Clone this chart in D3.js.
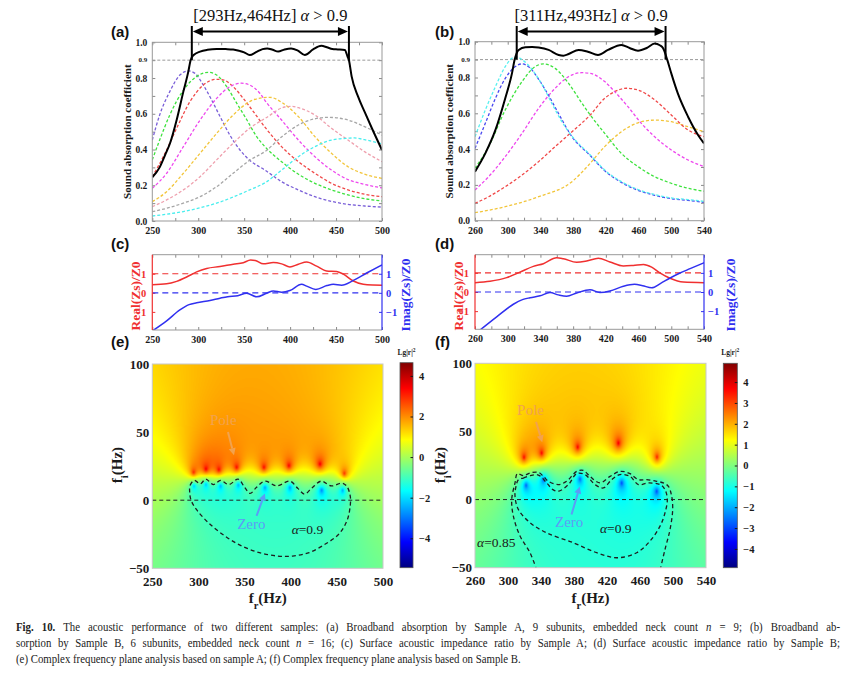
<!DOCTYPE html>
<html><head><meta charset="utf-8">
<script src="https://cdn.jsdelivr.net/npm/d3@7/dist/d3.min.js"></script>
<style>
html,body{margin:0;padding:0;background:#fff;}
svg{display:block;}
</style></head>
<body>
<svg id="fig" width="855" height="674" xmlns="http://www.w3.org/2000/svg"></svg>
<script>
// ================= DATA =================
// (a) Sample A sound absorption, [frequency Hz, alpha]
const absA_total = [[250,0.245],[258,0.30],[264,0.37],[269.3,0.435],[276.5,0.565],[283.8,0.724],[289.2,0.836],[291.7,0.90],[295,0.929],[302,0.948],[310,0.958],[320,0.963],[330,0.962],[338,0.96],[345,0.952],[350,0.944],[356,0.929],[363,0.945],[370,0.962],[375,0.966],[381,0.958],[387,0.948],[394,0.96],[401,0.966],[408,0.955],[416,0.929],[425,0.96],[434,0.98],[440,0.972],[446,0.962],[452,0.96],[459.5,0.957],[462.5,0.92],[464,0.90],[467,0.808],[474,0.696],[481,0.612],[489,0.519],[500,0.397]];
const absA_purple  = [[250,0.453],[258,0.593],[269,0.724],[280,0.817],[289,0.84],[296.5,0.826],[305.5,0.761],[314.6,0.677],[323.7,0.585],[334.5,0.48],[345,0.40],[356,0.34],[372.6,0.285],[390.7,0.22],[409,0.174],[427,0.136],[445,0.11],[463,0.093],[481,0.084],[500,0.078]];
const absA_green   = [[250,0.342],[258,0.453],[269,0.593],[284,0.733],[298,0.808],[311,0.832],[320,0.817],[331,0.752],[342,0.658],[353,0.565],[363.6,0.472],[372.6,0.416],[390.7,0.332],[409,0.262],[427,0.211],[445,0.174],[463,0.146],[481,0.125],[500,0.112]];
const absA_red     = [[250,0.248],[262,0.36],[276.5,0.519],[291,0.668],[305.5,0.761],[320,0.793],[327,0.79],[338,0.752],[349,0.686],[360,0.612],[372.6,0.525],[390.7,0.416],[409,0.332],[427,0.267],[445,0.211],[463,0.174],[481,0.15],[500,0.136]];
const absA_magenta = [[250,0.183],[265.6,0.267],[283.8,0.416],[302,0.565],[320,0.686],[334.5,0.752],[347,0.771],[356,0.761],[367,0.715],[374,0.665],[390.7,0.565],[409,0.453],[427,0.36],[445,0.285],[463,0.232],[481,0.205],[500,0.185]];
const absA_yellow  = [[250,0.108],[265.6,0.164],[283.8,0.267],[302,0.379],[320,0.49],[338,0.593],[356,0.668],[370,0.69],[378,0.692],[392,0.66],[409,0.584],[427,0.472],[445,0.379],[463,0.304],[481,0.262],[500,0.239]];
const absA_pink    = [[250,0.08],[265.6,0.118],[283.8,0.174],[302,0.248],[320,0.342],[338,0.435],[356,0.519],[374,0.578],[394,0.638],[402,0.642],[409,0.634],[427,0.593],[445,0.519],[463,0.453],[481,0.388],[500,0.332]];
const absA_gray    = [[250,0.052],[265.6,0.071],[283.8,0.1],[302,0.136],[320,0.192],[338,0.267],[356,0.34],[373,0.39],[391,0.472],[409,0.537],[427,0.572],[442,0.58],[463,0.565],[481,0.528],[500,0.48]];
const absA_cyan    = [[250,0.028],[283.8,0.053],[320,0.1],[356,0.174],[373,0.215],[391,0.286],[409,0.36],[427,0.416],[445,0.453],[463,0.463],[470,0.465],[481,0.455],[500,0.432]];

// (b) Sample B sound absorption
const absB_total = [[260,0.274],[272.6,0.376],[285,0.507],[297,0.684],[305.2,0.823],[308.5,0.90],[313.4,0.954],[321.5,0.969],[330,0.970],[337.8,0.967],[350,0.954],[362.3,0.926],[368,0.922],[374.5,0.931],[386.7,0.954],[398,0.944],[410.4,0.926],[422.7,0.954],[439,0.982],[449,0.965],[459.3,0.95],[470,0.965],[479.7,0.99],[486,0.98],[490,0.963],[495,0.90],[500,0.823],[508,0.711],[520.5,0.581],[532.7,0.479],[540,0.432]];
const absB_cyan    = [[260,0.469],[272.6,0.618],[285,0.749],[297,0.861],[305,0.907],[311,0.915],[317.5,0.90],[329.7,0.845],[342,0.76],[354,0.655],[366,0.555],[378.6,0.472],[401,0.367],[418.6,0.283],[439,0.218],[459.3,0.174],[479.7,0.146],[500,0.127],[520.5,0.118],[540,0.108]];
const absB_blue    = [[260,0.404],[272.6,0.544],[285,0.684],[297,0.795],[309.3,0.861],[317.5,0.876],[325.6,0.86],[337.8,0.79],[350,0.70],[362,0.60],[378.6,0.469],[401,0.363],[418.6,0.279],[439,0.214],[459.3,0.17],[479.7,0.142],[500,0.123],[520.5,0.113],[540,0.103]];
const absB_green   = [[260,0.293],[276.7,0.414],[297,0.619],[317.5,0.777],[333.7,0.861],[344,0.876],[358,0.851],[374.5,0.767],[390.8,0.656],[401,0.59],[418.6,0.488],[439,0.376],[459.3,0.302],[479.7,0.246],[500,0.209],[520.5,0.181],[540,0.165]];
const absB_magenta = [[260,0.172],[276.7,0.246],[297,0.358],[317.5,0.488],[337.8,0.628],[358,0.74],[374.5,0.805],[390.8,0.827],[401,0.823],[418.6,0.777],[430.8,0.721],[447,0.637],[463.4,0.544],[479.7,0.469],[500,0.395],[520.5,0.339],[540,0.302]];
const absB_red     = [[260,0.097],[276.7,0.134],[297,0.19],[317.5,0.255],[337.8,0.33],[358,0.414],[378.6,0.497],[401,0.591],[418.6,0.684],[430.8,0.721],[445,0.74],[459.3,0.73],[479.7,0.675],[500,0.591],[520.5,0.507],[540,0.47]];
const absB_yellow  = [[260,0.045],[297,0.078],[337.8,0.134],[378.6,0.218],[398,0.306],[418.6,0.414],[439,0.497],[459.3,0.547],[479.7,0.562],[500,0.553],[520.5,0.525],[540,0.497]];

// band limits where alpha > 0.9
const bandA = [293, 464];
const bandB = [311, 493];

// (c),(d) surface impedance ratio, [frequency Hz, value]
const zA_real = [[250,0.43],[265.6,0.47],[276.5,0.6],[287.4,0.83],[298.3,1.1],[309.2,1.28],[323.7,1.38],[338.2,1.5],[349,1.58],[357,1.72],[362,1.70],[370.8,1.52],[381.7,1.59],[390.8,1.52],[399.8,1.36],[408.9,1.5],[418,1.62],[428.9,1.4],[439.7,1.15],[450.6,1.12],[457.9,0.98],[468.8,0.62],[479.6,0.45],[490,0.41],[500,0.40]];
const zA_imag = [[250,-2.0],[265.6,-1.47],[280,-0.9],[290,-0.62],[298.3,-0.52],[312.8,-0.4],[323.7,-0.28],[332,-0.2],[343,-0.15],[352.7,-0.02],[363.6,-0.21],[374.5,-0.02],[381.7,0.1],[390.8,0.03],[399.8,0.12],[412.5,0.45],[418,0.35],[428,0.18],[440,0.38],[447,0.45],[456,0.4],[468.8,0.65],[483.3,1.04],[500,1.47]];
const zB_real = [[260,0.49],[278.4,0.56],[298.7,0.75],[315,1.04],[331.3,1.34],[343.6,1.48],[359.9,1.79],[368,1.74],[384.3,1.55],[396.5,1.62],[410.8,1.77],[425,1.57],[441.4,1.36],[453.6,1.39],[466,1.44],[476,1.3],[486,1.0],[498.4,0.72],[514.7,0.52],[540,0.49]];
const zB_imag = [[260,-2.2],[286.5,-1.3],[306.9,-0.64],[318,-0.4],[327.3,-0.30],[339.5,-0.2],[351.7,-0.03],[361.9,-0.15],[372,-0.22],[384.3,-0.05],[400.6,0.12],[412.8,-0.03],[425,0.05],[441.4,0.3],[455,0.4],[465,0.33],[476,0.22],[487,0.45],[498,0.72],[510,0.98],[523,1.22],[540,1.53]];

// (e),(f) complex frequency plane: poles and zeros [fr, fi] in Hz
const polesA = [[294.8,20.4],[308.2,22.8],[322.2,22.3],[341.4,24.1],[371,24.1],[398.1,25.3],[431.7,26.5],[458.1,19.6]];
const zerosA = [[295.2,10.5],[308.2,11.7],[324,10.5],[343.2,11.2],[372.1,9.3],[399.2,9.3],[433.5,7.3],[456.3,7.3]];
const polesB = [[319.4,31],[340.8,34.1],[384.5,38.5],[433.8,41.4],[480.6,31.2]];
const zerosB = [[321.9,10.5],[342.9,14.6],[387.3,15.1],[437.8,12.2],[480.2,6.1]];

// iso-absorption contours [fr, fi]
const contA_090 = [[290.5,6],[291,11],[295.5,14.5],[302,12],[308,15.5],[316,11.5],[324,14.5],[333,11.5],[343,15.5],[350,9.5],[356,5],[363,9.5],[372,14],[385,10.5],[399,14],[408,8.5],[415,4.5],[423,9],[433,14],[444,10.5],[456,12.5],[461,10],[464.5,3],[464.5,-4],[461,-15],[452,-25],[438,-32],[420,-38.5],[402,-41],[386,-41],[366,-38.5],[345,-33],[326,-25],[310,-16],[298,-7],[292,0]];
const contB_090 = [[312.6,14.6],[318.6,15.8],[326.7,17.5],[336.8,18],[346.9,12.2],[354,7.5],[361,6.1],[373.2,11],[383.3,19],[393.4,18.3],[405.5,11],[415.6,8.5],[425.7,14.6],[435.8,18.3],[447.9,17],[458,11],[470.1,12.2],[484.3,11],[490.3,7.3],[493.1,0],[490.3,-9.8],[484.3,-19.5],[472.1,-30.5],[456,-39],[431.7,-42.7],[407.5,-39],[379.2,-31.7],[346.9,-24.4],[326.7,-17],[312.6,-7.3],[308.5,2.4],[309.7,9.7]];
const contB_085 = [[335,-52],[326.7,-39],[314.6,-26.8],[306.5,-12.2],[304.5,0],[308.5,12.2],[311.4,19],[318.6,17.5],[326.7,19.5],[336.8,20],[343,17],[349,13.4],[361,11],[371,13.4],[383.3,20.7],[391.3,21.4],[399.4,17],[411.5,12.2],[423.7,17],[435.8,20.7],[447.9,19],[458,14.6],[468,14.6],[480.2,13.4],[488.3,12.2],[494.4,9.7],[498.4,2.4],[499.6,-7.3],[496.4,-22],[490.3,-36.6],[484.3,-52]];

// tick values
const ticksA = [250,300,350,400,450,500];
const ticksB = [260,300,340,380,420,460,500,540];
const ticksAbsY = [0,0.2,0.4,0.6,0.8,1.0];
const ticksZ = [-1,0,1];
const ticksFi = [-50,0,50,100];
const ticksCbA = [-4,-2,0,2,4];
const ticksCbB = [-4,-3,-2,-1,0,1,2,3,4];

// ================= DRAWING =================
const svg = d3.select('#fig');
const SERIF = "'Liberation Serif','Times New Roman',serif";
const SANS = "'Liberation Sans',Arial,sans-serif";
const defs = svg.append('defs');
let nClip = 0;
function clipRect(x0, y0, w, h) {
  const id = 'clip' + (nClip++);
  defs.append('clipPath').attr('id', id).append('rect').attr('x', x0).attr('y', y0).attr('width', w).attr('height', h);
  return 'url(#' + id + ')';
}
function styleAxis(sel, size, color) {
  sel.select('.domain').remove();
  sel.selectAll('.tick line').attr('stroke', color);
  sel.selectAll('.tick text').attr('font-family', SERIF).attr('font-weight', 'bold')
     .attr('font-size', size).attr('fill', color);
}
function panelLabel(txt, x, y) {
  svg.append('text').attr('x', x).attr('y', y).attr('font-family', SANS).attr('font-weight', 'bold')
     .attr('font-size', 15).attr('fill', '#111').text(txt);
}
function rotLabel(x, y, parts, size, color) {
  const t = svg.append('text').attr('transform', `translate(${x},${y}) rotate(-90)`)
    .attr('text-anchor', 'middle').attr('font-family', SERIF).attr('font-weight', 'bold')
    .attr('font-size', size).attr('fill', color).attr('dy', '0.35em');
  parts.forEach(p => {
    const s = t.append('tspan').text(p.t);
    if (p.sub) s.attr('font-size', size * 0.7).attr('baseline-shift', 'sub');
  });
}

// ---------- absorption panels ----------
function absPanel(p) {
  const x = d3.scaleLinear().domain(p.xdom).range(p.xr);
  const y = d3.scaleLinear().domain([0, 1]).range(p.yr);
  const [x0, x1] = p.xr, [yb, yt] = p.yr;
  const g = svg.append('g');
  const gray = '#8a8a8a';
  const minor = (axis, tr, vals) => g.append('g').attr('transform', tr)
      .call(axis.tickValues(vals).tickSize(-3).tickFormat(''))
      .call(s => styleAxis(s, 9, gray));
  const yMinor = d3.range(0, 11).map(i => i / 10);
  minor(d3.axisBottom(x), `translate(0,${yb})`, p.xminor);
  minor(d3.axisTop(x), `translate(0,${yt})`, p.xminor);
  minor(d3.axisLeft(y), `translate(${x0},0)`, yMinor);
  minor(d3.axisRight(y), `translate(${x1},0)`, yMinor);
  g.append('g').attr('transform', `translate(0,${yb})`)
    .call(d3.axisBottom(x).tickValues(p.xticks).tickSize(0).tickPadding(6).tickFormat(d3.format('d')))
    .call(s => styleAxis(s, 10, '#1a1a1a'));
  g.append('g').attr('transform', `translate(${x0},0)`)
    .call(d3.axisLeft(y).tickValues(ticksAbsY).tickSize(0).tickPadding(5).tickFormat(d3.format('.1f')))
    .call(s => styleAxis(s, 9.5, '#1a1a1a'));
  g.append('text').attr('x', x0 - 5).attr('y', y(0.9)).attr('dy', '0.32em').attr('text-anchor', 'end')
    .attr('font-family', SERIF).attr('font-weight', 'bold').attr('font-size', 7).attr('fill', '#1a1a1a').text('0.9');

  const gc = g.append('g').attr('clip-path', clipRect(x0, yt, x1 - x0, yb - yt));
  gc.append('line').attr('x1', x0).attr('x2', x1).attr('y1', y(0.9)).attr('y2', y(0.9))
    .attr('stroke', '#999').attr('stroke-width', 1).attr('stroke-dasharray', '3,2');
  const line = d3.line().x(d => x(d[0])).y(d => y(d[1])).curve(d3.curveMonotoneX);
  p.series.forEach(s => gc.append('path').attr('d', line(s.data)).attr('fill', 'none')
    .attr('stroke', s.color).attr('stroke-width', 1.3).attr('stroke-dasharray', '3,2'));
  gc.append('path').attr('d', line(p.total)).attr('fill', 'none').attr('stroke', '#000').attr('stroke-width', 2);
  g.append('rect').attr('x', x0).attr('y', yt).attr('width', x1 - x0).attr('height', yb - yt)
    .attr('fill', 'none').attr('stroke', '#999').attr('stroke-width', 1);

  // band annotation
  const [fa, fb] = p.band;
  const yTop = 26, yArr = 31.5;
  [fa, fb].forEach(f => g.append('line').attr('x1', x(f)).attr('x2', x(f)).attr('y1', yTop).attr('y2', y(0.9))
    .attr('stroke', '#000').attr('stroke-width', 2));
  g.append('line').attr('x1', x(fa) + 6).attr('x2', x(fb) - 6).attr('y1', yArr).attr('y2', yArr)
    .attr('stroke', '#000').attr('stroke-width', 2.2);
  const xa = x(fa) + 1, xb = x(fb) - 1;
  g.append('path').attr('d', `M${xa},${yArr}L${xa + 10},${yArr - 4.5}L${xa + 10},${yArr + 4.5}Z`).attr('fill', '#000');
  g.append('path').attr('d', `M${xb},${yArr}L${xb - 10},${yArr - 4.5}L${xb - 10},${yArr + 4.5}Z`).attr('fill', '#000');
  const t = g.append('text').attr('x', x((fa + fb) / 2)).attr('y', 21).attr('text-anchor', 'middle')
    .attr('font-family', SERIF).attr('font-size', 16.5).attr('fill', '#111');
  t.append('tspan').text(`[${fa}Hz,${fb}Hz] `);
  t.append('tspan').attr('font-style', 'italic').text('α');
  t.append('tspan').text(' > 0.9');
  panelLabel(p.label, p.labx, 37);
  rotLabel(p.ytx, (yt + yb) / 2, [{t: 'Sound absorption coefficient'}], 11, '#1a1a1a');
  return x;
}

absPanel({
  xdom: [250, 500], xr: [152.3, 382], yr: [221, 42.3], xticks: ticksA, xminor: d3.range(250, 501, 25),
  total: absA_total, band: bandA, label: '(a)', labx: 111, ytx: 127,
  series: [
    {data: absA_purple, color: '#7a5fd8'}, {data: absA_green, color: '#3ee23e'},
    {data: absA_red, color: '#f04848'}, {data: absA_magenta, color: '#ee48ee'},
    {data: absA_yellow, color: '#f2c53a'}, {data: absA_pink, color: '#efa0ae'},
    {data: absA_gray, color: '#a6a6a6'}, {data: absA_cyan, color: '#48eeee'}
  ]
});
absPanel({
  xdom: [260, 540], xr: [475, 704], yr: [220.7, 41.7], xticks: ticksB, xminor: d3.range(260, 541, 20),
  total: absB_total, band: bandB, label: '(b)', labx: 435, ytx: 449,
  series: [
    {data: absB_yellow, color: '#f2c53a'}, {data: absB_red, color: '#f04848'},
    {data: absB_magenta, color: '#ee48ee'}, {data: absB_green, color: '#3ee23e'},
    {data: absB_blue, color: '#4848f0'}, {data: absB_cyan, color: '#58f0f0'}
  ]
});

// ---------- impedance panels ----------
function zPanel(p) {
  const x = d3.scaleLinear().domain(p.xdom).range(p.xr);
  const y = d3.scaleLinear().domain(p.ydom).range(p.yr);
  const [x0, x1] = p.xr, [yb, yt] = p.yr;
  const RED = '#f03030', BLUE = '#3030f0', gray = '#8a8a8a';
  const g = svg.append('g');
  g.append('g').attr('transform', `translate(0,${yb})`)
    .call(d3.axisBottom(x).tickValues(p.xminor).tickSize(-3).tickFormat('')).call(s => styleAxis(s, 9, gray));
  g.append('g').attr('transform', `translate(0,${yt})`)
    .call(d3.axisTop(x).tickValues(p.xminor).tickSize(-3).tickFormat('')).call(s => styleAxis(s, 9, gray));
  g.append('g').attr('transform', `translate(0,${yb})`)
    .call(d3.axisBottom(x).tickValues(p.xticks).tickSize(0).tickPadding(6).tickFormat(d3.format('d')))
    .call(s => styleAxis(s, 10, '#1a1a1a'));
  g.append('g').attr('transform', `translate(${x0},0)`)
    .call(d3.axisLeft(y).tickValues(ticksZ).tickSize(-3).tickPadding(6).tickFormat(d3.format('d')))
    .call(s => styleAxis(s, 10.5, RED));
  g.append('g').attr('transform', `translate(${x1},0)`)
    .call(d3.axisRight(y).tickValues(ticksZ).tickSize(-3).tickPadding(4).tickFormat(d3.format('d')))
    .call(s => styleAxis(s, 10.5, BLUE));
  const gc = g.append('g').attr('clip-path', clipRect(x0, yt, x1 - x0, yb - yt));
  gc.append('line').attr('x1', x0).attr('x2', x1).attr('y1', y(1)).attr('y2', y(1))
    .attr('stroke', RED).attr('stroke-width', 1.2).attr('stroke-dasharray', '6,4');
  gc.append('line').attr('x1', x0).attr('x2', x1).attr('y1', y(0)).attr('y2', y(0))
    .attr('stroke', BLUE).attr('stroke-width', 1.2).attr('stroke-dasharray', '6,4');
  const line = d3.line().x(d => x(d[0])).y(d => y(d[1])).curve(d3.curveMonotoneX);
  gc.append('path').attr('d', line(p.real)).attr('fill', 'none').attr('stroke', RED).attr('stroke-width', 1.5);
  gc.append('path').attr('d', line(p.imag)).attr('fill', 'none').attr('stroke', BLUE).attr('stroke-width', 1.5);
  g.append('line').attr('x1', x0).attr('x2', x1).attr('y1', yt).attr('y2', yt).attr('stroke', '#999');
  g.append('line').attr('x1', x0).attr('x2', x1).attr('y1', yb).attr('y2', yb).attr('stroke', '#999');
  g.append('line').attr('x1', x0).attr('x2', x0).attr('y1', yt).attr('y2', yb).attr('stroke', RED).attr('stroke-width', 1.2);
  g.append('line').attr('x1', x1).attr('x2', x1).attr('y1', yt).attr('y2', yb).attr('stroke', BLUE).attr('stroke-width', 1.2);
  panelLabel(p.label, p.labx, 249);
  rotLabel(p.ltx, 296, [{t: 'Real(Zs)/Z0'}], 13.5, RED);
  rotLabel(p.rtx, 295, [{t: 'Imag(Zs)/Z0'}], 13.5, BLUE);
}
zPanel({xdom: [250, 500], xr: [152.3, 382], ydom: [-1.95, 2], yr: [330, 254.7], xticks: ticksA,
  xminor: d3.range(250, 501, 25), real: zA_real, imag: zA_imag, label: '(c)', labx: 111, ltx: 135, rtx: 405});
zPanel({xdom: [260, 540], xr: [475, 704], ydom: [-1.95, 1.95], yr: [329.3, 254.7], xticks: ticksB,
  xminor: d3.range(260, 541, 20), real: zB_real, imag: zB_imag, label: '(d)', labx: 435, ltx: 458, rtx: 730});

// ---------- complex frequency plane panels ----------
const jetPos = [0, 0.125, 0.375, 0.625, 0.875, 1];
const jetCol = ['#000080', '#0000ff', '#00ffff', '#ffff00', '#ff0000', '#800000'];
function jet(lo, hi) {
  return d3.scaleLinear().domain(jetPos.map(p => lo + p * (hi - lo))).range(jetCol)
    .interpolate(d3.interpolateRgb).clamp(true);
}
// lg|r|^2 from the pole/zero positions, with a gentle background trend
function fieldLg(fr, fi, P, Z, m) {
  let D = 0;
  for (const z of Z) D += Math.log10((fr - z[0]) ** 2 + (fi - z[1]) ** 2 + 1);
  for (const q of P) D -= Math.log10((fr - q[0]) ** 2 + (fi - q[1]) ** 2 + 1);
  const extra = D > 0 ? m.boost * m.sat * Math.tanh(D / m.sat) : 0;
  return m.b0 + m.b1 * fi + D + extra;
}
function heatPanel(p) {
  const x = d3.scaleLinear().domain(p.xdom).range(p.xr);
  const y = d3.scaleLinear().domain([-50, 100]).range(p.yr);
  const [x0, x1] = p.xr, [yb, yt] = p.yr;
  const g = svg.append('g');
  const col = jet(p.cdom[0], p.cdom[1]);
  const N = 512, lut = [];
  for (let i = 0; i < N; i++) lut.push(d3.rgb(col(p.cdom[0] + (p.cdom[1] - p.cdom[0]) * i / (N - 1))));
  const W = Math.round(x1 - x0), H = Math.round(yb - yt);
  const cv = document.createElement('canvas'); cv.width = W; cv.height = H;
  const ctx = cv.getContext('2d'); const im = ctx.createImageData(W, H);
  for (let j = 0; j < H; j++) {
    const fi = y.invert(yt + (j + 0.5) * (yb - yt) / H);
    for (let i = 0; i < W; i++) {
      const fr = x.invert(x0 + (i + 0.5) * (x1 - x0) / W);
      const v = fieldLg(fr, fi, p.poles, p.zeros, p.model);
      let k = Math.round((v - p.cdom[0]) / (p.cdom[1] - p.cdom[0]) * (N - 1));
      k = Math.max(0, Math.min(N - 1, k));
      const c = lut[k], o = (j * W + i) * 4;
      im.data[o] = c.r; im.data[o + 1] = c.g; im.data[o + 2] = c.b; im.data[o + 3] = 255;
    }
  }
  ctx.putImageData(im, 0, 0);
  g.append('image').attr('x', x0).attr('y', yt).attr('width', x1 - x0).attr('height', yb - yt)
    .attr('preserveAspectRatio', 'none').attr('href', cv.toDataURL());
  const gc = g.append('g').attr('clip-path', clipRect(x0, yt, x1 - x0, yb - yt));
  gc.append('line').attr('x1', x0).attr('x2', x1).attr('y1', y(0)).attr('y2', y(0))
    .attr('stroke', '#222').attr('stroke-width', 1).attr('stroke-dasharray', '4,3');
  p.contours.forEach(c => {
    const ln = d3.line().x(d => x(d[0])).y(d => y(d[1]))
      .curve(c.closed ? d3.curveCatmullRomClosed : d3.curveCatmullRom);
    gc.append('path').attr('d', ln(c.data)).attr('fill', 'none').attr('stroke', '#1e1e1e')
      .attr('stroke-width', 1.3).attr('stroke-dasharray', '4,3');
  });
  g.append('rect').attr('x', x0).attr('y', yt).attr('width', x1 - x0).attr('height', yb - yt)
    .attr('fill', 'none').attr('stroke', '#c8c8c8').attr('stroke-width', 1);
  g.append('g').attr('transform', `translate(0,${yb})`)
    .call(d3.axisBottom(x).tickValues(p.xticks).tickSize(0).tickPadding(8).tickFormat(d3.format('d')))
    .call(s => styleAxis(s, 13, '#1a1a1a'));
  g.append('g').attr('transform', `translate(${x0},0)`)
    .call(d3.axisLeft(y).tickValues(ticksFi).tickSize(0).tickPadding(3).tickFormat(d3.format('d')))
    .call(s => styleAxis(s, 13, '#1a1a1a'));
  // axis titles
  const xt = svg.append('text').attr('x', (x0 + x1) / 2).attr('y', 603).attr('text-anchor', 'middle')
    .attr('font-family', SERIF).attr('font-weight', 'bold').attr('font-size', 15).attr('fill', '#1a1a1a');
  xt.append('tspan').text('f');
  xt.append('tspan').attr('font-size', 10.5).attr('baseline-shift', 'sub').text('r');
  xt.append('tspan').text('(Hz)');
  rotLabel(p.ytx, 465, [{t: 'f'}, {t: 'i', sub: true}, {t: '(Hz)'}], 15, '#1a1a1a');
  panelLabel(p.label, p.labx, 347);
  // annotations
  const a = p.ann;
  const addArrow = (from, to, color) => {
    const X1 = x(from[0]), Y1 = y(from[1]), X2 = x(to[0]), Y2 = y(to[1]);
    const ang = Math.atan2(Y2 - Y1, X2 - X1), L = 7, Wd = 3.5;
    const bx = X2 - L * Math.cos(ang), by = Y2 - L * Math.sin(ang);
    g.append('line').attr('x1', X1).attr('y1', Y1).attr('x2', bx).attr('y2', by)
      .attr('stroke', color).attr('stroke-width', 2);
    g.append('path').attr('d', `M${X2},${Y2}L${bx + Wd * Math.sin(ang)},${by - Wd * Math.cos(ang)}L${bx - Wd * Math.sin(ang)},${by + Wd * Math.cos(ang)}Z`)
      .attr('fill', color);
  };
  const txt = (pos, s, color, size) => g.append('text').attr('x', x(pos[0])).attr('y', y(pos[1]))
    .attr('font-family', SERIF).attr('font-size', size).attr('fill', color).text(s);
  txt(a.pole, 'Pole', '#f2a24e', 15);
  addArrow(a.poleFrom, a.poleTo, '#f2a24e');
  txt(a.zero, 'Zero', '#5c9cf5', 15);
  addArrow(a.zeroFrom, a.zeroTo, '#5c9cf5');
  a.alphas.forEach(al => {
    const t = g.append('text').attr('x', x(al.pos[0])).attr('y', y(al.pos[1])).attr('font-family', SERIF)
      .attr('font-size', 13.5).attr('fill', '#1a1a1a');
    t.append('tspan').attr('font-style', 'italic').text('α');
    t.append('tspan').text('=' + al.v);
  });
  // colorbar
  const cb = p.cb;
  const gid = 'grad' + p.label.replace(/\W/g, '');
  const lg = defs.append('linearGradient').attr('id', gid).attr('x1', 0).attr('y1', 1).attr('x2', 0).attr('y2', 0);
  jetPos.forEach((o, i) => lg.append('stop').attr('offset', o).attr('stop-color', jetCol[i]));
  g.append('rect').attr('x', cb.x).attr('y', cb.yr[1]).attr('width', cb.w).attr('height', cb.yr[0] - cb.yr[1])
    .attr('fill', `url(#${gid})`).attr('stroke', '#555').attr('stroke-width', 0.8);
  const yc = d3.scaleLinear().domain(p.cdom).range(cb.yr);
  g.append('g').attr('transform', `translate(${cb.x + cb.w},0)`)
    .call(d3.axisRight(yc).tickValues(cb.ticks).tickSize(-2.5).tickPadding(6).tickFormat(d3.format('d')))
    .call(s => styleAxis(s, 10.5, '#1a1a1a'));
  const lt = g.append('text').attr('x', cb.x + cb.w / 2).attr('y', 355).attr('text-anchor', 'middle')
    .attr('font-family', SERIF).attr('font-weight', 'bold').attr('font-size', 7.5).attr('fill', '#1a1a1a');
  lt.append('tspan').text('Lg|r|');
  lt.append('tspan').attr('font-size', 5.5).attr('baseline-shift', 'super').text('2');
}

heatPanel({
  xdom: [250, 500], xr: [152.3, 383], yr: [568.3, 364], xticks: ticksA, cdom: [-5.45, 4.65],
  poles: polesA, zeros: zerosA, model: {b0: 0.15, b1: 0.005, boost: 0.32, sat: 1.2},
  label: '(e)', labx: 111, ytx: 117,
  contours: [{data: contA_090, closed: true}],
  cb: {x: 400, w: 13, yr: [567.7, 362.7], ticks: ticksCbA},
  ann: {pole: [312.5, 55], poleFrom: [332, 50], poleTo: [338.5, 33],
        zero: [342, -21], zeroFrom: [363, -11.5], zeroTo: [372, 5],
        alphas: [{pos: [401, -24.5], v: '0.9'}]}
});
heatPanel({
  xdom: [260, 540], xr: [475, 706], yr: [567.7, 363.3], xticks: ticksB, cdom: [-4.9, 4.9],
  poles: polesB, zeros: zerosB, model: {b0: 0.3, b1: 0.004, boost: 0.08, sat: 1.3},
  label: '(f)', labx: 435, ytx: 440,
  contours: [{data: contB_090, closed: true}, {data: contB_085, closed: false}],
  cb: {x: 723.3, w: 14, yr: [567.7, 363.3], ticks: ticksCbB},
  ann: {pole: [311, 62], poleFrom: [334, 57], poleTo: [341.5, 42],
        zero: [357, -20], zeroFrom: [377, -11], zeroTo: [387, 9.5],
        alphas: [{pos: [411.5, -24.5], v: '0.9'}, {pos: [262.5, -34.5], v: '0.85'}]}
});

// ---------- caption (condensed serif, first two lines justified by word spacing) ----------
const capScale = 0.94;
function capLine(y, len, parts) {
  const t = svg.append('g').attr('transform', `translate(16,${y}) scale(${capScale},1)`)
    .append('text').attr('x', 0).attr('y', 0).attr('font-family', SERIF).attr('font-size', 11.5)
    .attr('fill', '#222');
  parts.forEach(p => {
    const s = t.append('tspan').text(p.t);
    if (p.b) s.attr('font-weight', 'bold');
    if (p.i) s.attr('font-style', 'italic');
  });
  if (len) {
    const w = t.node().getComputedTextLength();
    const nSpaces = parts.map(p => p.t).join('').split(' ').length - 1;
    t.attr('word-spacing', Math.max(0, (len / capScale - w) / nSpaces));
  }
}
capLine(631, 824, [{t: 'Fig. 10.', b: true}, {t: ' The acoustic performance of two different samples: (a) Broadband absorption by Sample A, 9 subunits, embedded neck count '}, {t: 'n', i: true}, {t: ' = 9; (b) Broadband ab-'}]);
capLine(647, 824, [{t: 'sorption by Sample B, 6 subunits, embedded neck count '}, {t: 'n', i: true}, {t: ' = 16; (c) Surface acoustic impedance ratio by Sample A; (d) Surface acoustic impedance ratio by Sample B;'}]);
capLine(663, 0, [{t: '(e) Complex frequency plane analysis based on sample A; (f) Complex frequency plane analysis based on Sample B.'}]);
</script>
</body></html>
